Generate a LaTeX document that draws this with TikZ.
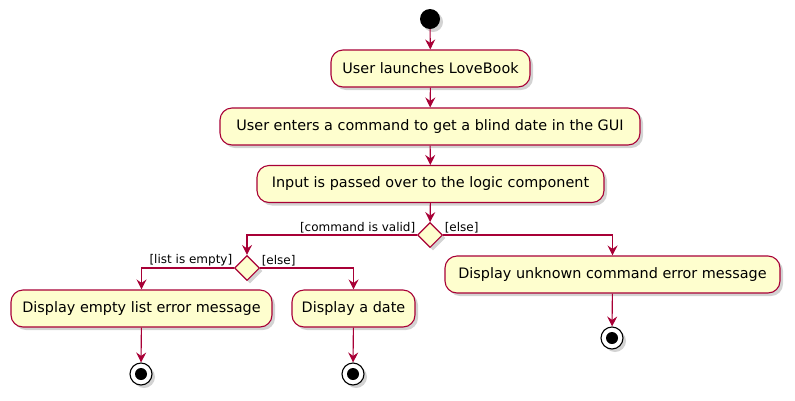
\documentclass[tikz,border=0pt]{standalone}
\usepackage{fontspec}
\setmainfont{DejaVu Sans}
\usetikzlibrary{arrows.meta, shapes.geometric, shadows}
\definecolor{umlred}{HTML}{A80036}
\definecolor{umlfill}{HTML}{FEFECE}
\tikzset{
  shade/.style={drop shadow={opacity=0.35, shadow xshift=3pt, shadow yshift=-3pt}},
  act/.style={draw=umlred, fill=umlfill, rounded corners=12pt, line width=1.1pt,
    minimum height=37pt, inner xsep=4pt, font=\fontsize{14.4}{16}\selectfont, shade},
  branch/.style={diamond, draw=umlred, fill=umlfill, line width=1.1pt,
    minimum width=25pt, minimum height=25pt, inner sep=0pt, shade},
  startn/.style={circle, fill=black, minimum size=20pt, inner sep=0pt, shade},
  stopn/.style={circle, draw=black, fill=white, line width=1.1pt, minimum size=22pt,
    inner sep=0pt, shade, path picture={\fill[black] (path picture bounding box.center) circle (6pt);}},
  flow/.style={draw=umlred, line width=1.1pt, -{Stealth[length=10pt, width=10pt, inset=3.5pt]}},
  guard/.style={font=\fontsize{12}{14}\selectfont, inner sep=1.5pt}
}

\begin{document}
\begin{tikzpicture}[x=1pt, y=-1pt]
\useasboundingbox (0,0) rectangle (795,400);
% main line
\node[startn] (start) at (430,19) {};
\node[act, minimum width=199pt] (launch) at (430.5,68.5) {User launches LoveBook};
\node[act, minimum width=420pt] (enter) at (430,126.5) {User enters a command to get a blind date in the GUI};
\node[act, minimum width=347pt] (pass) at (430.5,184) {Input is passed over to the logic component};
\node[branch] (valid) at (430,235) {};
% valid command
\node[branch] (empty) at (247,268) {};
\node[act, minimum width=261pt] (emptymsg) at (141.5,308.5) {Display empty list error message};
\node[act, minimum width=123pt] (date) at (353.5,308.5) {Display a date};
\node[stopn] (stopa) at (141,374) {};
\node[stopn] (stopb) at (353,374) {};
% invalid command
\node[act, minimum width=335pt] (unknown) at (612.5,274.5) {Display unknown command error message};
\node[stopn] (stopc) at (612,338) {};

\draw[flow] (start) -- (launch);
\draw[flow] (launch) -- (enter);
\draw[flow] (enter) -- (pass);
\draw[flow] (pass) -- (valid);
\draw[flow] (valid.west) -| (empty.north);
\draw[flow] (valid.east) -| (unknown.north);
\draw[flow] (empty.west) -| (emptymsg.north);
\draw[flow] (empty.east) -| (date.north);
\draw[flow] (emptymsg) -- (stopa);
\draw[flow] (date) -- (stopb);
\draw[flow] (unknown) -- (stopc);

\node[guard, anchor=south east] at (valid.west) {[command is valid]};
\node[guard, anchor=south west] at (valid.east) {[else]};
\node[guard, anchor=south east] at (empty.west) {[list is empty]};
\node[guard, anchor=south west] at (empty.east) {[else]};
\end{tikzpicture}
\end{document}
